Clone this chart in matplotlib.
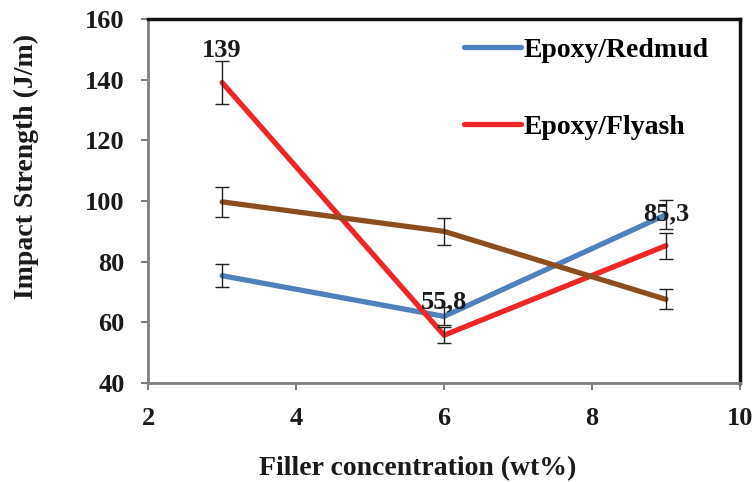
import numpy as np
import matplotlib.pyplot as plt

plt.rcParams["font.family"] = ["Liberation Serif", "DejaVu Serif"]
plt.rcParams["font.weight"] = "bold"

# data
conc = [3, 6, 9]
redmud = [75.4, 62.0, 95.5]
redmud_err = [3.7, 3.0, 4.8]
flyash = [139.0, 55.8, 85.3]
flyash_err = [7.0, 2.7, 4.3]
other = [99.7, 90.0, 67.6]
other_err = [5.0, 4.4, 3.3]

labels = ["139", "55,8", "85,3"]
label_pos = [(3.0, 149.5), (6.0, 66.8), (9.0, 95.9)]

fig = plt.figure(figsize=(7.52, 4.82), dpi=100)
ax = fig.add_axes([0.197, 0.205, 0.787, 0.756])

series = [
    (redmud, redmud_err, "#4F81BD", "Epoxy/Redmud"),
    (flyash, flyash_err, "#EE2628", "Epoxy/Flyash"),
    (other, other_err, "#8C4E1E", None),
]
for vals, err, col, lab in series:
    ax.plot(conc, vals, color=col, lw=3.8, label=lab, solid_capstyle="round", zorder=2)
    ax.errorbar(conc, vals, yerr=err, fmt="none", ecolor="#222222",
                elinewidth=1.0, capsize=5, capthick=1.0, zorder=3)

for txt, (x, y) in zip(labels, label_pos):
    ax.text(x, y, txt, ha="center", va="center", fontsize=19, fontweight="bold",
            color="#1a1a1a", zorder=4)

ax.set_xlim(2, 10)
ax.set_ylim(40, 160)
ax.set_xticks([2, 4, 6, 8, 10])
ax.set_yticks([40, 60, 80, 100, 120, 140, 160])
ax.tick_params(axis="both", direction="out", length=5, width=1.5, color="#808080",
               labelsize=19, labelcolor="#1a1a1a")
ax.tick_params(axis="y", pad=12)
ax.tick_params(axis="x", pad=12)
for lbl in ax.get_xticklabels() + ax.get_yticklabels():
    lbl.set_fontweight("bold")

ax.spines["left"].set_color("#808080")
ax.spines["bottom"].set_color("#808080")
ax.spines["left"].set_linewidth(2)
ax.spines["bottom"].set_linewidth(2)
ax.spines["top"].set_color("#111111")
ax.spines["right"].set_color("#111111")
ax.spines["top"].set_linewidth(2.5)
ax.spines["right"].set_linewidth(2.5)

ax.set_xlabel("Filler concentration (wt%)", fontsize=20, fontweight="bold",
              color="#1a1a1a")
ax.xaxis.set_label_coords(0.455, -0.20)
ax.set_ylabel("Impact Strength (J/m)", fontsize=20, fontweight="bold",
              color="#1a1a1a")
ax.yaxis.set_label_coords(-0.184, 0.596)

ax.legend(loc="upper left", bbox_to_anchor=(0.492, 1.018), frameon=False,
          labelspacing=1.85, handlelength=2.05, handletextpad=0.1,
          prop={"weight": "bold", "size": 20})

plt.savefig("out.png")
